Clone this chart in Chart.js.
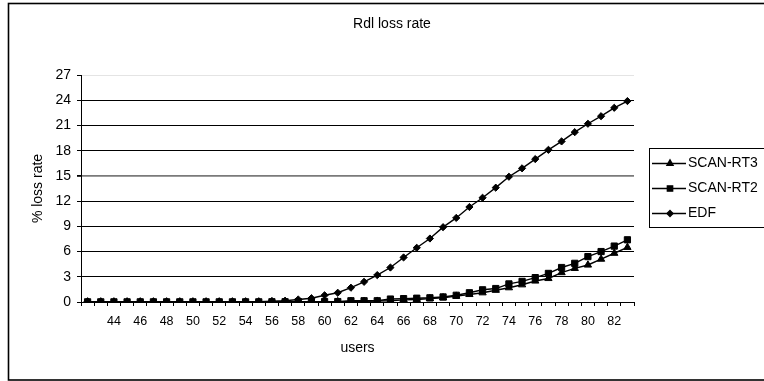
<!DOCTYPE html>
<html>
<head>
<meta charset="utf-8">
<script src="https://cdn.jsdelivr.net/npm/chart.js@4/dist/chart.umd.min.js"></script>
<style>
  html, body { margin: 0; padding: 0; background: #fff; }
  #wrap { width: 764px; height: 381px; }
</style>
</head>
<body>
<div id="wrap"><canvas id="c" width="764" height="381"></canvas></div>
<script>
// Number of users (category axis)
const users = [42, 43, 44, 45, 46, 47, 48, 49, 50, 51, 52, 53, 54, 55, 56, 57, 58, 59, 60, 61, 62,
               63, 64, 65, 66, 67, 68, 69, 70, 71, 72, 73, 74, 75, 76, 77, 78, 79, 80, 81, 82, 83];

// % loss rate per scheduler
const scanRT3 = [0.02, 0.02, 0.02, 0.02, 0.02, 0.02, 0.02, 0.02, 0.02, 0.02, 0.02, 0.02, 0.02, 0.02,
                 0.02, 0.03, 0.03, 0.04, 0.05, 0.05, 0.07, 0.08, 0.1, 0.15, 0.25, 0.3, 0.4, 0.5,
                 0.7, 0.9, 1.1, 1.4, 1.7, 2.05, 2.5, 2.8, 3.5, 4.0, 4.4, 5.1, 5.8, 6.5];
const scanRT2 = [0.02, 0.02, 0.02, 0.02, 0.02, 0.02, 0.02, 0.02, 0.02, 0.02, 0.02, 0.02, 0.02, 0.02,
                 0.03, 0.03, 0.04, 0.05, 0.05, 0.05, 0.15, 0.15, 0.15, 0.35, 0.4, 0.45, 0.5, 0.6,
                 0.8, 1.1, 1.45, 1.6, 2.15, 2.45, 2.9, 3.4, 4.1, 4.6, 5.4, 6.0, 6.65, 7.4];
const edf     = [0.05, 0.05, 0.05, 0.05, 0.05, 0.05, 0.05, 0.05, 0.05, 0.05, 0.05, 0.05, 0.05, 0.05,
                 0.1, 0.15, 0.3, 0.45, 0.8, 1.1, 1.7, 2.4, 3.2, 4.1, 5.3, 6.45, 7.55, 8.9,
                 10.0, 11.3, 12.4, 13.6, 14.9, 15.9, 17.0, 18.1, 19.1, 20.2, 21.2, 22.1, 23.1, 23.9];

const seriesNames = ['SCAN-RT3', 'SCAN-RT2', 'EDF'];
const yTicks = [0, 3, 6, 9, 12, 15, 18, 21, 24, 27];
const chartTitle = 'Rdl loss rate';
const xTitle = 'users';
const yTitle = '% loss rate';

const FONT = '"Liberation Sans", Arial, Helvetica, sans-serif';
Chart.defaults.font.family = FONT;
Chart.defaults.color = '#000';

const markerStyles = ['triangle', 'rect', 'rectRot'];
const markerRadius = [4.2, 4.4, 3.6];

// frame, centred title and boxed legend on the right
const decor = {
  id: 'decor',
  beforeDraw(chart) {
    const ctx = chart.ctx;
    ctx.save();
    ctx.fillStyle = '#fff';
    ctx.fillRect(0, 0, chart.width, chart.height);
    ctx.strokeStyle = '#000';
    ctx.lineWidth = 1.6;
    ctx.strokeRect(8.5, 3.5, 800, 376.5);
    ctx.restore();
  },
  afterDraw(chart) {
    const ctx = chart.ctx;
    ctx.save();
    ctx.fillStyle = '#000';
    ctx.font = '14px ' + FONT;
    ctx.textAlign = 'center';
    ctx.textBaseline = 'middle';
    ctx.fillText(chartTitle, 392, 24);

    // legend box
    ctx.strokeStyle = '#000';
    ctx.lineWidth = 1;
    ctx.strokeRect(649.5, 148.5, 200, 79);
    const rows = [163, 188, 213];
    chart.data.datasets.forEach((ds, i) => {
      const y = rows[i];
      ctx.beginPath();
      ctx.moveTo(652, y + 0.5);
      ctx.lineTo(686, y + 0.5);
      ctx.lineWidth = 1.3;
      ctx.strokeStyle = '#000';
      ctx.stroke();
      ctx.fillStyle = '#000';
      Chart.helpers.drawPoint(ctx, {
        pointStyle: markerStyles[i], radius: markerRadius[i] - 0.6, rotation: 0, borderWidth: 1
      }, 670, y + 0.5);
      ctx.fillStyle = '#000';
      ctx.textAlign = 'left';
      ctx.fillText(ds.label, 688, y);
    });
    ctx.restore();
  }
};

const datasets = [scanRT3, scanRT2, edf].map((vals, i) => ({
  label: seriesNames[i],
  data: vals,
  borderColor: '#000',
  backgroundColor: '#000',
  borderWidth: 1.4,
  pointStyle: markerStyles[i],
  pointRadius: markerRadius[i],
  pointBorderWidth: 1,
  pointBackgroundColor: '#000',
  pointBorderColor: '#000',
  tension: 0,
  fill: false
}));

new Chart(document.getElementById('c'), {
  type: 'line',
  data: { labels: users, datasets },
  plugins: [decor],
  options: {
    responsive: false,
    animation: false,
    devicePixelRatio: 1,
    layout: { padding: { left: 0, top: 75, right: 130, bottom: 0 } },
    plugins: { legend: { display: false }, title: { display: false }, tooltip: { enabled: false } },
    scales: {
      x: {
        type: 'category',
        offset: true,
        afterFit(scale) { scale.height = 79; },
        border: { color: '#000', width: 1 },
        grid: { offset: true, drawOnChartArea: false, tickLength: 4, color: '#000', tickColor: '#000' },
        ticks: {
          autoSkip: false, maxRotation: 0, minRotation: 0, padding: 8,
          font: { size: 12.5 }, color: '#000',
          callback(value, index) {
            const u = users[index];
            return (index > 0 && u % 2 === 0) ? String(u) : '';
          }
        },
        title: { display: true, text: xTitle, font: { size: 14 }, color: '#000', padding: { top: 0, bottom: 24 } }
      },
      y: {
        min: yTicks[0],
        max: yTicks[yTicks.length - 1],
        afterFit(scale) { scale.width = 81; },
        afterBuildTicks(scale) { scale.ticks = yTicks.map(v => ({ value: v })); },
        border: { color: '#000', width: 1 },
        grid: {
          tickLength: 4,
          tickColor: '#000',
          color: ctx => ctx.tick && ctx.tick.value === 27 ? '#e4e4e4' : (ctx.tick && ctx.tick.value === 15 ? '#7a7a7a' : '#000'),
          lineWidth: ctx => ctx.tick && ctx.tick.value === 15 ? 1.8 : 1
        },
        ticks: { padding: 6, font: { size: 14 }, color: '#000' },
        title: { display: true, text: yTitle, font: { size: 14 }, color: '#000', padding: { top: 30, bottom: 0 } }
      }
    }
  }
});
</script>
</body>
</html>
